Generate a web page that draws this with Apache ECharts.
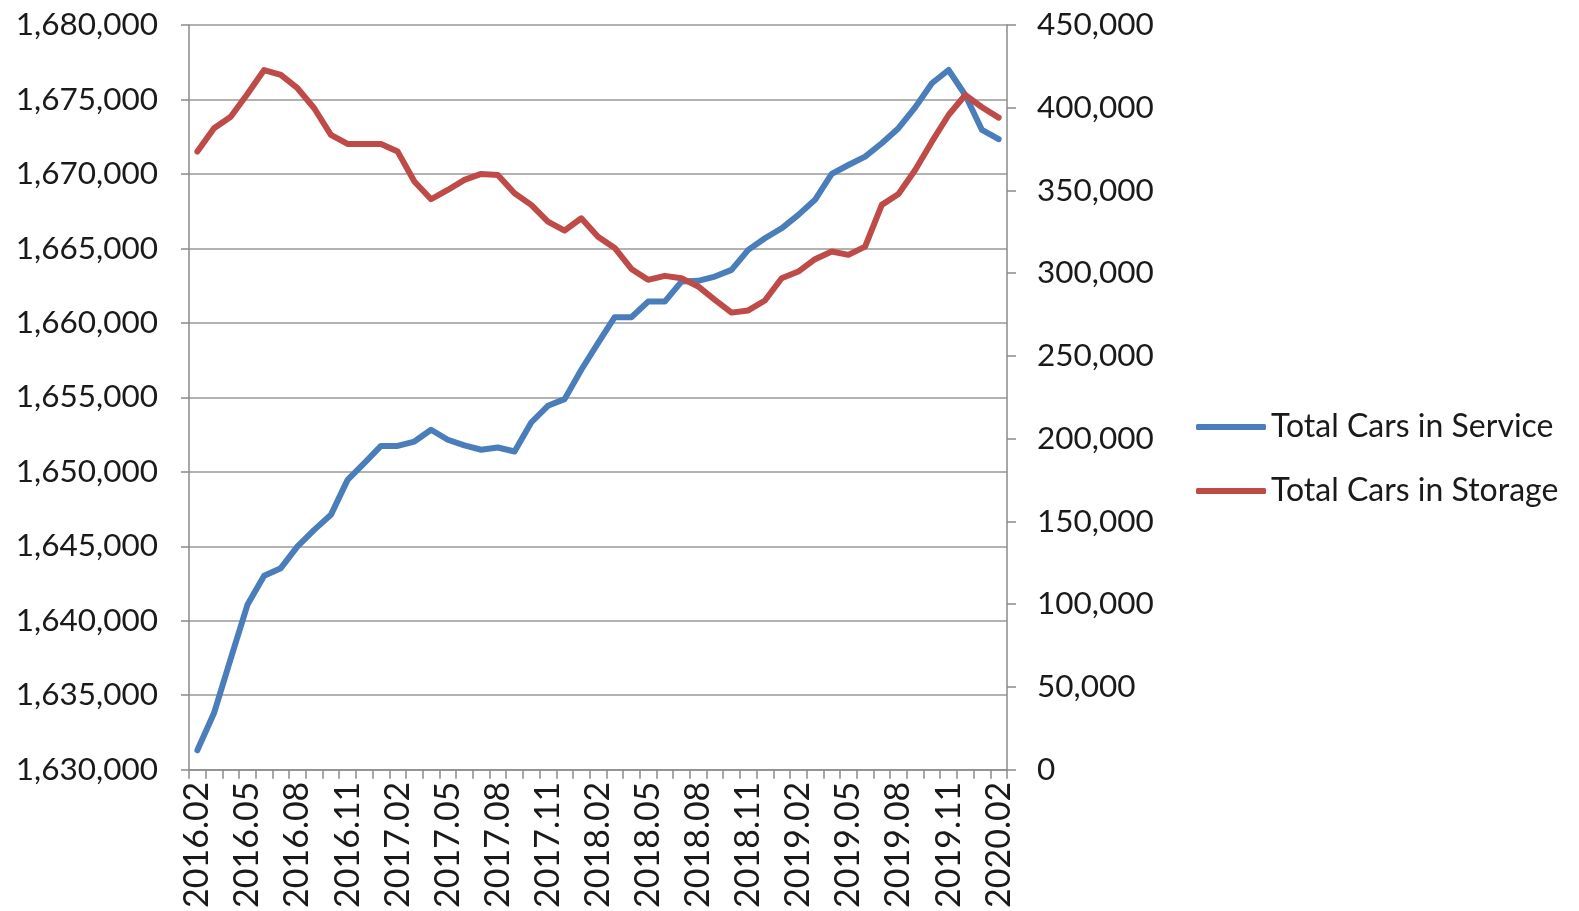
<!DOCTYPE html>
<html>
<head>
<meta charset="utf-8">
<script src="https://cdn.jsdelivr.net/npm/echarts@6/dist/echarts.min.js"></script>
<style>
html,body{margin:0;padding:0;background:#fff;}
#chart{width:1579px;height:911px;}
</style>
</head>
<body>
<div id="chart"></div>
<script>
var categories = [
  "2016.02","2016.03","2016.04","2016.05","2016.06","2016.07","2016.08","2016.09","2016.10","2016.11","2016.12",
  "2017.01","2017.02","2017.03","2017.04","2017.05","2017.06","2017.07","2017.08","2017.09","2017.10","2017.11","2017.12",
  "2018.01","2018.02","2018.03","2018.04","2018.05","2018.06","2018.07","2018.08","2018.09","2018.10","2018.11","2018.12",
  "2019.01","2019.02","2019.03","2019.04","2019.05","2019.06","2019.07","2019.08","2019.09","2019.10","2019.11","2019.12",
  "2020.01","2020.02"
];
var carsInService = [
  1631300,1633800,1637450,1641070,1643020,1643530,1644990,1646100,1647110,1649460,1650580,
  1651740,1651740,1652030,1652820,1652150,1651770,1651480,1651630,1651360,1653310,1654430,1654880,
  1656850,1658640,1660380,1660380,1661430,1661430,1662770,1662820,1663110,1663560,1664900,1665680,
  1666350,1667250,1668260,1670000,1670600,1671160,1672060,1673070,1674470,1676090,1676980,1675300,
  1672950,1672330
];
var carsInStorage = [
  373500,387600,394600,408300,422800,419800,411800,399700,383600,378100,378100,
  378100,373500,355400,344700,350300,356400,360000,359400,348300,341300,331200,325800,
  333200,322100,315300,302600,296000,298400,297000,292000,283900,276200,277500,283500,
  297000,301000,308500,313100,311100,316100,341300,347900,362400,379500,395600,407700,
  400300,394000
];
var leftTicks = {min:1630000, max:1680000, interval:5000};
var rightTicks = {min:0, max:450000, interval:50000};
var seriesNames = ["Total Cars in Service","Total Cars in Storage"];

function fmt(v){ return String(v).replace(/\B(?=(\d{3})+(?!\d))/g, ","); }

var FONT = "Lato";
var AXIS_COLOR = "#8a8a8a";
var TEXT_COLOR = "#1a1a1a";

var chart = echarts.init(document.getElementById('chart'), null, {renderer:'canvas'});
chart.setOption({
  backgroundColor:'#ffffff',
  animation:false,
  textStyle:{fontFamily:FONT},
  grid:{left:189, right:572, top:25, bottom:141, containLabel:false},
  legend:{
    orient:'vertical',
    left:1191, top:406,
    itemWidth:70, itemHeight:6,
    itemGap:32,
    icon:'roundRect',
    textStyle:{fontFamily:FONT, fontSize:32, color:TEXT_COLOR, lineHeight:32, padding:[0,0,0,0]},
    data:seriesNames
  },
  xAxis:{
    type:'category',
    data:categories,
    boundaryGap:true,
    axisLine:{show:true, lineStyle:{color:AXIS_COLOR, width:1.5}},
    axisTick:{show:true, interval:0, length:9, lineStyle:{color:AXIS_COLOR, width:1.5}},
    axisLabel:{interval:2, rotate:90, margin:12, fontFamily:FONT, fontSize:34, color:TEXT_COLOR},
    splitLine:{show:false}
  },
  yAxis:[
    {
      type:'value', position:'left',
      min:leftTicks.min, max:leftTicks.max, interval:leftTicks.interval,
      axisLine:{show:true, lineStyle:{color:AXIS_COLOR, width:1.5}},
      axisTick:{show:true, length:8, lineStyle:{color:AXIS_COLOR, width:1.5}},
      axisLabel:{margin:31, fontFamily:FONT, fontSize:31.5, color:TEXT_COLOR, formatter:fmt},
      splitLine:{show:true, lineStyle:{color:'#999999', width:1.5}}
    },
    {
      type:'value', position:'right',
      min:rightTicks.min, max:rightTicks.max, interval:rightTicks.interval,
      axisLine:{show:true, lineStyle:{color:AXIS_COLOR, width:1.5}},
      axisTick:{show:true, length:9, lineStyle:{color:AXIS_COLOR, width:1.5}},
      axisLabel:{margin:30, fontFamily:FONT, fontSize:31.5, color:TEXT_COLOR, formatter:fmt},
      splitLine:{show:false}
    }
  ],
  series:[
    {
      name:seriesNames[0], type:'line', yAxisIndex:0, data:carsInService,
      symbol:'none', smooth:false,
      lineStyle:{color:'#4a7ebb', width:6, cap:'round', join:'round'},
      itemStyle:{color:'#4a7ebb'}
    },
    {
      name:seriesNames[1], type:'line', yAxisIndex:1, data:carsInStorage,
      symbol:'none', smooth:false,
      lineStyle:{color:'#be4b48', width:6, cap:'round', join:'round'},
      itemStyle:{color:'#be4b48'}
    }
  ]
});
</script>
</body>
</html>
